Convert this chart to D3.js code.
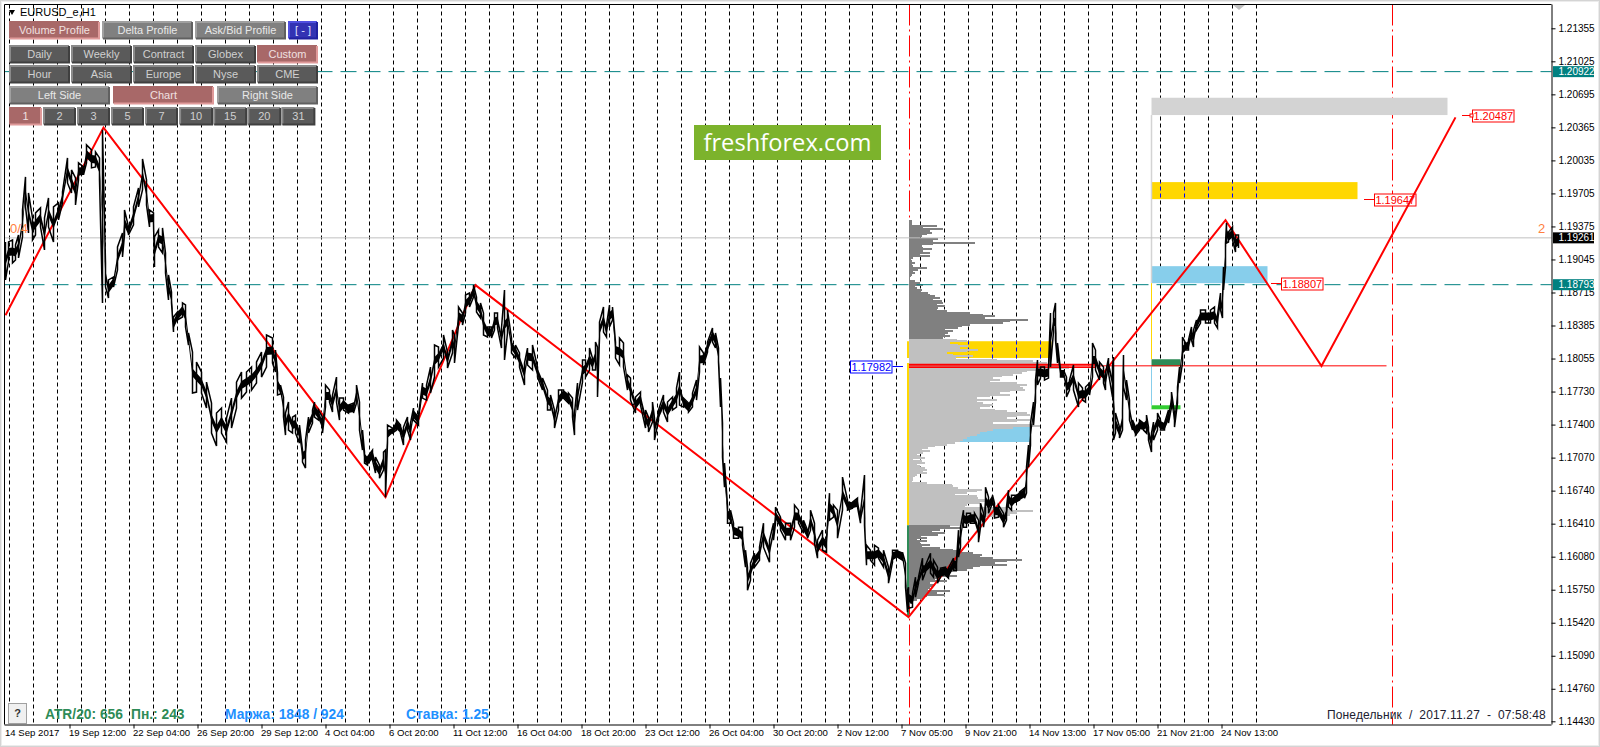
<!DOCTYPE html>
<html>
<head>
<meta charset="utf-8">
<title>EURUSD_e,H1</title>
<script src="https://d3js.org/d3.v7.min.js"></script>
<style>
  body { margin: 0; background: #fff; overflow: hidden; }
  text { font-family: "Liberation Sans", Arial, sans-serif; }
</style>
</head>
<body>
<div id="root"></div>
<script>
// Data. Price bars are [bar, high, low], prices in 1/10000.
const sepBars = [
  [0,11922,11884],[3,11922,11902],[7,11924,11901],[10,11919,11904],[13,11929,11906],[17,11954,11927],[20,11987,11957],[23,11971,11931],
  [27,11946,11924],[30,11951,11929],[35,11956,11937],[39,11946,11914],[43,11966,11937],[48,11957,11922],[53,11961,11944],[57,11972,11961],
  [62,12006,11981],[66,11994,11971],[70,11986,11959],[73,12001,11984],[78,11997,11989],[81,12019,12001],[86,12014,11996],[90,12012,11997],
  [94,12006,11984],[97,12034,11861],[100,11901,11877],[103,11884,11866],[108,11887,11877],[112,11917,11894],[117,11931,11907],[119,11954,11929],
  [123,11937,11929],[128,11957,11939],[133,11976,11957],[137,12005,11974],[141,11984,11959],[144,11954,11937],[148,11951,11941],[149,11927,11897],
  [153,11934,11917],[157,11936,11911],[160,11911,11891],[163,11889,11864],[166,11872,11861],[168,11847,11832],[172,11852,11844],[177,11861,11847],
  [180,11859,11837],[183,11831,11819],[187,11812,11771],[191,11802,11772],[196,11792,11771],[201,11782,11756],[206,11761,11731],[211,11751,11718],
  [216,11756,11731],[221,11746,11722],[226,11766,11736],[231,11782,11756],[236,11792,11766],[241,11792,11772],[246,11797,11774],[251,11802,11781],
  [256,11812,11787],[261,11829,11797],[267,11826,11801],[270,11814,11792],[272,11791,11769],[275,11779,11770],[278,11767,11747],[280,11751,11729],
  [283,11762,11734],[287,11747,11731],[290,11749,11731],[294,11739,11721],[297,11714,11702],[300,11724,11696],[303,11747,11731],[307,11754,11741],
  [309,11762,11747],[313,11754,11744],[317,11747,11731],[320,11779,11757],[324,11774,11762],[327,11769,11752],[331,11787,11762],[334,11766,11744],
  [338,11766,11754],[343,11759,11751],[348,11761,11751],[351,11779,11761],[354,11762,11734],[357,11734,11714],[359,11712,11701],[362,11707,11699],
  [367,11714,11704],[370,11707,11691],[374,11699,11686],[378,11712,11694],[380,11714,11667]
];
const octBars = [
  [382,11739,11721],[387,11736,11731],[391,11744,11734],[395,11739,11731],[398,11737,11719],[402,11747,11734],[405,11741,11724],[408,11756,11744],
  [413,11749,11739],[417,11781,11766],[421,11779,11764],[425,11797,11771],[429,11819,11787],[433,11817,11797],[438,11829,11806],[442,11812,11796],
  [447,11834,11811],[449,11829,11801],[453,11857,11839],[457,11851,11839],[460,11869,11851],[464,11871,11857],[468,11879,11867],[471,11867,11852],
  [475,11861,11846],[478,11851,11829],[482,11837,11827],[486,11837,11826],[489,11851,11834],[492,11851,11836],[496,11836,11816],[499,11874,11804],
  [502,11854,11831],[506,11826,11811],[510,11819,11806],[514,11811,11797],[519,11801,11779],[522,11816,11799],[527,11819,11794],[532,11797,11787],
  [537,11786,11774],[542,11774,11754],[545,11769,11754],[549,11754,11736],[553,11774,11754],[558,11774,11766],[563,11771,11761],[567,11766,11747],
  [569,11751,11729],[572,11781,11754],[577,11804,11782],[580,11804,11787],[584,11816,11794],[587,11806,11794],[590,11822,11794],[592,11817,11767],
  [594,11842,11826],[598,11857,11832],[601,11839,11827],[604,11859,11837],[607,11857,11844],[610,11822,11806],[614,11826,11799],[618,11821,11797],
  [622,11789,11774],[625,11786,11764],[630,11767,11751],[635,11772,11759],[640,11754,11736],[643,11747,11732],[647,11762,11742],[649,11746,11724],
  [653,11754,11744],[658,11769,11752],[662,11762,11742],[667,11767,11754],[671,11776,11757],[674,11792,11759],[678,11766,11757],[683,11761,11752],
  [687,11771,11757],[691,11784,11764],[694,11817,11792],[698,11811,11799],[702,11822,11812],[707,11836,11822],[710,11831,11816],[713,11816,11802],
  [715,11786,11757],[717,11741,11707],[719,11701,11677],[722,11659,11641],[725,11654,11641],[728,11641,11626],[733,11637,11626],[737,11637,11619],
  [740,11614,11597],[742,11597,11574],[745,11601,11584],[749,11611,11597],[754,11617,11604],[758,11641,11617],[764,11624,11602],[768,11641,11624],
  [770,11657,11641],[775,11647,11634],[780,11641,11624],[785,11641,11624],[789,11659,11637],[793,11654,11641],[798,11644,11631],[802,11634,11626],
  [805,11654,11634],[809,11641,11621],[812,11624,11606],[817,11634,11614],[821,11626,11612],[824,11671,11644],[828,11659,11647],[832,11654,11626],
  [837,11687,11654],[842,11664,11654],[847,11662,11656],[852,11666,11657],[855,11651,11641],[859,11689,11639],[861,11619,11599],[865,11614,11604],
  [869,11619,11599],[873,11616,11606],[878,11614,11597],[883,11597,11581],[887,11614,11602],[892,11614,11607],[897,11612,11604],[900,11601,11577]
];
const novBars = [
  [902,11574,11552],[903,11577,11556],[907,11571,11557],[910,11587,11567],[913,11587,11581],[917,11606,11584],[920,11599,11592],[925,11611,11591],
  [928,11604,11587],[932,11597,11581],[935,11596,11587],[940,11597,11589],[943,11596,11586],[948,11606,11594],[951,11604,11594],[953,11634,11607],
  [955,11637,11617],[958,11654,11637],[961,11651,11637],[965,11651,11641],[969,11651,11641],[973,11644,11622],[975,11661,11637],[978,11651,11637],
  [980,11677,11651],[983,11667,11651],[987,11669,11661],[989,11661,11646],[993,11659,11647],[998,11651,11637],[1001,11657,11644],[1003,11674,11657],
  [1006,11669,11654],[1010,11669,11662],[1014,11672,11664],[1019,11676,11666],[1021,11697,11671],[1023,11719,11697],[1025,11741,11719],[1028,11762,11739],
  [1030,11784,11762],[1032,11804,11779],[1035,11797,11786],[1039,11797,11784],[1043,11797,11786],[1045,11851,11797],[1048,11851,11832],[1050,11861,11824],
  [1052,11821,11801],[1055,11794,11787],[1058,11794,11787],[1061,11787,11767],[1064,11784,11774],[1068,11799,11774],[1073,11781,11757],[1077,11776,11764],
  [1080,11777,11762],[1084,11781,11769],[1087,11821,11787],[1090,11814,11794],[1094,11802,11784],[1098,11797,11781],[1100,11791,11774],[1103,11806,11791],
  [1107,11797,11767],[1108,11807,11724],[1110,11751,11731],[1114,11737,11726],[1117,11754,11734],[1118,11809,11777],[1121,11784,11764],[1124,11764,11744],
  [1127,11744,11734],[1130,11737,11729],[1134,11744,11734],[1138,11741,11734],[1141,11749,11731],[1143,11737,11724],[1146,11731,11712],[1148,11742,11724],
  [1152,11751,11734],[1155,11744,11734],[1159,11741,11734],[1163,11754,11741],[1166,11772,11757],[1169,11751,11737],[1172,11777,11761],[1174,11797,11781],
  [1177,11827,11801],[1180,11821,11814],[1183,11824,11814],[1186,11837,11824],[1188,11834,11817],[1191,11844,11834],[1195,11854,11841],[1200,11854,11841],
  [1205,11854,11841],[1209,11857,11841],[1212,11849,11836],[1215,11871,11854],[1217,11864,11846],[1218,11897,11874],[1220,11921,11897],[1221,11941,11921],
  [1223,11932,11922],[1227,11937,11924],[1230,11929,11912],[1233,11929,11916]
];

// Forecast / swing zigzag
const zigzagBars = [0, 98, 380, 470, 903, 1220, 1316, 1450];
const zigzagPrices = [1.18488, 1.20363, 1.16671, 1.18788, 1.15471, 1.19438, 1.17981, 1.20465];

// Volume profile, one value per price row from the top row down
const profileVolume = [
  3,3,3,28,14,34,21,23,18,13,11,29,24,66,24,13,14,23,14,21,11,21,4,2,3,6,3,4,18,9,4,6,3,2,1,1,6,11,14,6,8,13,11,19,21,26,31,24,33,34,28,36,29,28,38,61,74,86,76,119,101,94,61,53,49,36,44,39,36,41,34,
  48,58,41,49,59,51,69,58,38,44,64,47,88,124,138,151,160,160,128,118,113,104,93,84,91,81,108,118,111,114,116,101,91,101,81,68,88,68,74,84,81,71,86,98,118,121,108,98,121,108,84,124,131,104,84,78,71,68,61,58,54,51,
  46,38,26,19,13,21,14,8,11,16,4,13,16,8,11,16,18,14,18,8,6,4,4,3,18,43,44,49,73,68,58,46,68,69,84,78,71,58,56,98,103,124,108,101,94,71,64,61,68,51,
  41,51,31,23,36,29,11,18,8,18,11,21,13,31,44,51,64,73,71,84,113,98,86,98,71,64,58,48,39,34,48,29,26,38,21,26,23,21,19,41,28,36,18,14,8,4,3,1
];
const profileTopPrice = 1.19438;
const profileStep = 0.0001667;
const profileDarkAbove = 1.18258;
const profileDarkBelow = 1.16388;
const profileBar = 903.5;

// Axis labels
const priceTicks = [1.21355,1.21025,1.20695,1.20365,1.20035,1.19705,1.19375,1.19045,1.18715,1.18385,1.18055,1.1773,1.174,1.1707,1.1674,1.1641,1.1608,1.1575,1.1542,1.1509,1.1476,1.1443];
const tickPixelPrices = [1.21355,1.21025,1.20695,1.20365,1.20035,1.19705,1.19375,1.19045,1.18715,1.18385,1.18055,1.17725,1.17395,1.17065,1.16735,1.16405,1.16075,1.15745,1.15415,1.15085,1.14755,1.14430];
const timeBars = [0,64,128,192,256,320,384,448,512,576,640,704,768,832,896,960,1024,1088,1152,1216];
const timeLabels = ['14 Sep 2017','19 Sep 12:00','22 Sep 04:00','26 Sep 20:00','29 Sep 12:00','4 Oct 04:00','6 Oct 20:00','11 Oct 12:00','16 Oct 04:00','18 Oct 20:00','23 Oct 12:00','26 Oct 04:00','30 Oct 20:00','2 Nov 12:00','7 Nov 05:00','9 Nov 21:00','14 Nov 13:00','17 Nov 05:00','21 Nov 21:00','24 Nov 13:00'];
const dayBars = [4,28,52,76,100,124,148,172,196,220,244,268,292,316,340,364,388,412,436,460,484,508,532,556,580,604,628,652,676,700,724,748,772,796,820,844,867,891,915,939,963,987,1011,1035,1059,1083,1107,1131,1155,1179,1203,1227,1251];

// Button captions
const topButtons = ['Volume Profile', 'Delta Profile', 'Ask/Bid Profile'];
const sessionRow1 = ['Daily', 'Weekly', 'Contract', 'Globex', 'Custom'];
const sessionRow2 = ['Hour', 'Asia', 'Europe', 'Nyse', 'CME'];
const sideButtons = ['Left Side', 'Chart', 'Right Side'];
const countButtons = ['1', '2', '3', '5', '7', '10', '15', '20', '31'];

let width = 1600;
let height = 747;
let plotLeft = 4.5;
let plotRight = 1551.5;
let plotTop = 4.5;
let plotBottom = 724.5;

let svg = d3.select('#root')
  .append('svg')
  .attr('width', width)
  .attr('height', height)
  .style('display', 'block');

let xScale = d3.scaleLinear().domain([0, 1546]).range([5.5, 1551.5]);
let yScale = d3.scaleLinear().domain([1.14430, 1.21355]).range([721.3, 28.3]);

let pipY = (p) => yScale(p / 10000);

// window frame
svg.append('rect').attr('x', 0.5).attr('y', 0.5).attr('width', width - 1).attr('height', height - 1)
  .attr('fill', 'none').attr('stroke', '#d4d4d4');
svg.append('rect').attr('x', 1.5).attr('y', 1.5).attr('width', width - 3).attr('height', height - 3)
  .attr('fill', 'none').attr('stroke', '#ececec');

// day separators
let drawGrid = (g, color) => {
  g.selectAll('line')
    .data(dayBars)
    .enter()
    .append('line')
    .attr('x1', (d) => xScale(d))
    .attr('x2', (d) => xScale(d))
    .attr('y1', plotTop)
    .attr('y2', plotBottom)
    .attr('stroke', color)
    .attr('stroke-dasharray', '4 3');
};
drawGrid(svg.append('g').attr('id', 'grid'), '#000');

// red session lines
let sessionLines = [904, 1387];
svg.append('g').selectAll('line')
  .data(sessionLines)
  .enter()
  .append('line')
  .attr('x1', (d) => xScale(d))
  .attr('x2', (d) => xScale(d))
  .attr('y1', plotTop)
  .attr('y2', plotBottom)
  .attr('stroke', '#f00')
  .attr('stroke-width', 1)
  .attr('stroke-dasharray', '21 4 2 4');

// horizontal levels
let levels = [
  { price: 1.20922, color: '#008080', dash: '16 8' },
  { price: 1.18793, color: '#008080', dash: '16 8' },
  { price: 1.19261, color: '#c0c0c0', dash: null }
];

// profile boxes: [startBar, endBar, top price, bottom price, colour]
let boxes = [
  [1146, 1442, 1.20661, 1.20488, '#d3d3d3'],
  [1146, 1352, 1.19818, 1.19648, '#ffd700'],
  [1146, 1262, 1.18978, 1.18808, '#87ceeb'],
  [1146, 1175, 1.18048, 1.17978, '#2e8b57'],
  [1146, 1175, 1.17588, 1.17548, '#32cd32'],
  [profileBar, 1046, 1.18228, 1.18061, '#ffd700'],
  [profileBar, 1025, 1.17371, 1.17221, '#87ceeb']
];
svg.append('g').selectAll('rect')
  .data(boxes)
  .enter()
  .append('rect')
  .attr('x', (d) => xScale(d[0]))
  .attr('width', (d) => xScale(d[1]) - xScale(d[0]))
  .attr('y', (d) => yScale(d[2]))
  .attr('height', (d) => yScale(d[3]) - yScale(d[2]))
  .attr('fill', (d) => d[4]);

// separators show blue through the gold boxes
let defs = svg.append('defs');
let goldClip = defs.append('clipPath').attr('id', 'goldClip');
goldClip.selectAll('rect')
  .data(boxes.filter((d) => d[4] === '#ffd700'))
  .enter()
  .append('rect')
  .attr('x', (d) => xScale(d[0]))
  .attr('width', (d) => xScale(d[1]) - xScale(d[0]))
  .attr('y', (d) => yScale(d[2]))
  .attr('height', (d) => yScale(d[3]) - yScale(d[2]));
drawGrid(svg.append('g').attr('clip-path', 'url(#goldClip)'), '#0000ff');

// vertical stems of the boxes
let stems = [
  [1146, 1.20488, 1.18808, '#d3d3d3', 1.5],
  [1146, 1.18808, 1.18048, '#ffd700', 1],
  [1146, 1.17978, 1.17588, '#87ceeb', 1],
  [profileBar - 1, 1.18228, 1.18061, '#ffd700', 2],
  [profileBar - 1, 1.18010, 1.16388, '#ffd700', 2],
  [profileBar - 1, 1.16388, 1.15471, '#2e8b57', 2]
];
svg.append('g').selectAll('line')
  .data(stems)
  .enter()
  .append('line')
  .attr('x1', (d) => xScale(d[0]))
  .attr('x2', (d) => xScale(d[0]))
  .attr('y1', (d) => yScale(d[1]))
  .attr('y2', (d) => yScale(d[2]))
  .attr('stroke', (d) => d[3])
  .attr('stroke-width', (d) => d[4]);

// volume profile rows
let volumeWidth = d3.scaleLinear().domain([0, 160]).range([0, 160]);
svg.append('g').attr('id', 'profile').attr('shape-rendering', 'crispEdges').selectAll('rect')
  .data(profileVolume)
  .enter()
  .append('rect')
  .attr('x', xScale(profileBar))
  .attr('y', (d, i) => yScale(profileTopPrice - i * profileStep))
  .attr('width', (d) => volumeWidth(d))
  .attr('height', 2)
  .attr('fill', (d, i) => {
    let p = profileTopPrice - i * profileStep;
    return (p > profileDarkAbove || p < profileDarkBelow) ? '#808080' : '#c0c0c0';
  });

// level lines
svg.append('g').selectAll('line')
  .data(levels)
  .enter()
  .append('line')
  .attr('x1', plotLeft)
  .attr('x2', plotRight)
  .attr('y1', (d) => yScale(d.price))
  .attr('y2', (d) => yScale(d.price))
  .attr('stroke', (d) => d.color)
  .attr('stroke-dasharray', (d) => d.dash);

// point of control
let pocLines = [
  [profileBar, 1090, 1.17995, 1.5],
  [profileBar, 1090, 1.17968, 1.5],
  [profileBar, 1381, 1.17982, 1]
];
svg.append('g').selectAll('line')
  .data(pocLines)
  .enter()
  .append('line')
  .attr('x1', (d) => xScale(d[0]))
  .attr('x2', (d) => xScale(d[1]))
  .attr('y1', (d) => yScale(d[2]))
  .attr('y2', (d) => yScale(d[2]))
  .attr('stroke', '#f00')
  .attr('stroke-width', (d) => d[3]);

// boxed price labels: text, bar of the connector start, price, colour
let priceLabels = [
  { text: '1.20487', bar: 1456.5, price: 1.20487, color: '#f00', marker: true },
  { text: '1.19647', bar: 1358.5, price: 1.19647, color: '#f00' },
  { text: '1.18807', bar: 1265.5, price: 1.18807, color: '#f00' },
  { text: '1.17982', bar: 844.5, price: 1.17982, color: '#00f', left: true }
];
let labelG = svg.append('g').selectAll('g')
  .data(priceLabels)
  .enter()
  .append('g')
  .attr('transform', (d) => `translate(${xScale(d.bar)},${Math.round(yScale(d.price)) + 0.5})`);
labelG.append('rect')
  .attr('x', (d) => d.left ? 0.5 : 10.5)
  .attr('y', -5.5)
  .attr('width', 41.5)
  .attr('height', 12)
  .attr('fill', '#fff')
  .attr('stroke', (d) => d.color)
  .attr('stroke-width', 1);
labelG.append('line')
  .attr('x1', (d) => d.left ? 42.5 : 0)
  .attr('x2', (d) => d.left ? 53 : 10.5)
  .attr('y1', 0).attr('y2', 0)
  .attr('stroke', (d) => d.color);
labelG.filter((d) => d.marker).append('rect')
  .attr('x', 8).attr('y', -1.5).attr('width', 3).attr('height', 3)
  .attr('fill', '#fff').attr('stroke', '#f00');
labelG.append('text')
  .attr('x', (d) => d.left ? 21.3 : 31.3)
  .attr('y', 4.5)
  .attr('text-anchor', 'middle')
  .attr('font-size', 11)
  .attr('fill', (d) => d.color)
  .text((d) => d.text);

// zigzag
let zigzagLine = d3.line()
  .x((d) => xScale(d))
  .y((d, i) => yScale(zigzagPrices[i]));
svg.append('path')
  .attr('d', zigzagLine(zigzagBars))
  .attr('fill', 'none')
  .attr('stroke', '#f00')
  .attr('stroke-width', 2);

// price: a solid body between the bars plus the jagged high-low strokes
let priceBars = sepBars.concat(octBars, novBars);
let bodyLimit = 4; // long wicks stay thin, only their middle joins the body
let priceBody = d3.area()
  .x((d) => xScale(d[0]))
  .y0((d) => pipY(Math.min(d[1], (d[1] + d[2]) / 2 + bodyLimit)))
  .y1((d) => pipY(Math.max(d[2], (d[1] + d[2]) / 2 - bodyLimit)));
svg.append('path')
  .attr('d', priceBody(priceBars))
  .attr('fill', '#000');

let jagged = priceBars.flatMap((d, i) => i % 2
  ? [[d[0], d[2]], [d[0], d[1]]]
  : [[d[0], d[1]], [d[0], d[2]]]);
let priceLine = d3.line()
  .x((d) => xScale(d[0]))
  .y((d) => pipY(d[1]));
svg.append('path')
  .attr('id', 'price')
  .attr('d', priceLine(jagged))
  .attr('fill', 'none')
  .attr('stroke', '#000')
  .attr('stroke-width', 1.5)
  .attr('stroke-linejoin', 'miter');

// axes
let yAxisG = svg.append('g')
  .attr('transform', `translate(${plotRight},0)`)
  .call(d3.axisRight(yScale).tickValues(tickPixelPrices).tickSizeOuter(0).tickSize(4).tickFormat((d, i) => priceTicks[i].toFixed(5)));
yAxisG.select('.domain').attr('d', `M0.5,${plotTop}V${plotBottom}`).attr('stroke', '#000');
yAxisG.selectAll('text').attr('font-family', '"Liberation Sans", Arial, sans-serif').attr('font-size', 10).attr('fill', '#000').attr('x', 7);

let xAxisG = svg.append('g')
  .attr('transform', `translate(0,${plotBottom})`)
  .call(d3.axisBottom(xScale).tickValues(timeBars).tickSizeOuter(0).tickSize(4).tickFormat((d, i) => timeLabels[i]));
xAxisG.select('.domain').attr('d', `M${plotLeft},0.5H${plotRight}`).attr('stroke', '#000');
xAxisG.selectAll('text').attr('font-family', '"Liberation Sans", Arial, sans-serif').attr('font-size', 9.6).attr('fill', '#000')
  .attr('text-anchor', 'start').attr('x', -1).attr('dy', 0).attr('y', 11.5);
xAxisG.selectAll('.tick').filter((d, i) => i === 0).select('line').remove();

// top and left frame of the plot
svg.append('path').attr('d', `M${plotLeft},${plotBottom}V${plotTop}H${plotRight}`).attr('fill', 'none').attr('stroke', '#000');

// coloured price tags on the axis
let priceTags = [
  { price: 1.20922, color: '#008080' },
  { price: 1.18793, color: '#008080' },
  { price: 1.19261, color: '#000' }
];
let tagG = svg.append('g').selectAll('g')
  .data(priceTags)
  .enter()
  .append('g')
  .attr('transform', (d) => `translate(1553,${yScale(d.price)})`);
tagG.append('rect').attr('x', 0).attr('y', -5.5).attr('width', 41).attr('height', 11).attr('fill', (d) => d.color);
tagG.append('text').attr('x', 5.5).attr('y', 3.5).attr('font-size', 10).attr('fill', '#fff').text((d) => d.price.toFixed(5));

// shift marker at the top
svg.append('path').attr('d', 'M1233,5H1245L1239,10Z').attr('fill', '#c0c0c0');

// buttons
let drawButton = (x, y, w, h, label, kind) => {
  let styles = {
    dark: { face: '#5a5a5a', hi: '#8a8a8a', lo: '#3f3f3f', text: '#d0d0d0' },
    gray: { face: '#808080', hi: '#a0a0a0', lo: '#606060', text: '#e8e8e8' },
    red: { face: '#a86868', hi: '#a86868', lo: '#e09a9a', text: '#f0e0e0' },
    blue: { face: '#3333b3', hi: '#5050e0', lo: '#2020a0', text: '#e0e0ff' }
  };
  let s = styles[kind];
  let g = svg.append('g');
  g.append('rect').attr('x', x).attr('y', y).attr('width', w).attr('height', h).attr('fill', s.face);
  g.append('path').attr('d', `M${x},${y + h}V${y}H${x + w}`).attr('fill', 'none').attr('stroke', s.hi).attr('stroke-width', 2);
  g.append('path').attr('d', `M${x + w},${y}V${y + h}H${x}`).attr('fill', 'none').attr('stroke', s.lo).attr('stroke-width', 2);
  g.append('text').attr('x', x + w / 2).attr('y', y + h / 2 + 4).attr('text-anchor', 'middle')
    .attr('font-size', 11).attr('fill', s.text).text(label);
};

topButtons.forEach((label, i) => drawButton(10 + 93 * i, 22, 89, 16.5, label, i === 0 ? 'red' : 'gray'));
drawButton(289, 22, 28, 16.5, '[ - ]', 'blue');
sessionRow1.forEach((label, i) => drawButton(10 + 62 * i, 46, 59, 16.5, label, label === 'Custom' ? 'red' : 'dark'));
sessionRow2.forEach((label, i) => drawButton(10 + 62 * i, 66, 59, 16.5, label, 'dark'));
sideButtons.forEach((label, i) => drawButton(10 + 104 * i, 87, 99, 16.5, label, label === 'Chart' ? 'red' : 'gray'));
countButtons.forEach((label, i) => drawButton(10 + 34 * i + (i > 4 ? (i - 4) * 0.1 : 0), 108, i < 5 ? 31 : 32, 16.5, label, i === 0 ? 'red' : 'dark'));

// symbol caption
svg.append('path').attr('d', 'M9,10H15L12,15Z').attr('fill', '#000');
svg.append('text').attr('x', 20).attr('y', 16).attr('font-size', 11).attr('fill', '#000').text('EURUSD_e,H1');

// small orange numbers
svg.append('text').attr('x', 10).attr('y', 233).attr('font-size', 13).attr('fill', '#ff7f3f').text('0/4');
svg.append('text').attr('x', 1538).attr('y', 233).attr('font-size', 13).attr('fill', '#ff7f3f').text('2');

// watermark
svg.append('rect').attr('x', 694).attr('y', 125).attr('width', 187).attr('height', 35).attr('fill', '#7cb32c');
svg.append('text').attr('x', 787.5).attr('y', 150.5).attr('text-anchor', 'middle')
  .attr('font-size', 23.7).attr('fill', '#fff').style('font-family', '"Open Sans"').text('freshforex.com');

// help button
svg.append('rect').attr('x', 8.5).attr('y', 703.5).attr('width', 18).attr('height', 20).attr('fill', '#f0f0f0').attr('stroke', '#a0a0a0');
svg.append('text').attr('x', 17.5).attr('y', 717).attr('text-anchor', 'middle').attr('font-size', 11).attr('font-weight', 'bold').attr('fill', '#333').text('?');

// status texts
let statusTexts = [
  { x: 45, text: 'ATR/20: 656', color: '#2e8b57' },
  { x: 131, text: 'Пн.: 243', color: '#2e8b57' },
  { x: 225, text: 'Маржа: 1848 / 924', color: '#1e90ff' },
  { x: 406, text: 'Ставка: 1.25', color: '#1e90ff' }
];
svg.append('g').selectAll('text')
  .data(statusTexts)
  .enter()
  .append('text')
  .attr('x', (d) => d.x)
  .attr('y', 719)
  .attr('font-size', 13.8)
  .attr('font-weight', 'bold')
  .attr('fill', (d) => d.color)
  .text((d) => d.text);

svg.append('text').attr('x', 1327).attr('y', 719).attr('font-size', 12).attr('fill', '#202030')
  .attr('textLength', 218.7)
  .attr('lengthAdjust', 'spacing')
  .style('white-space', 'pre')
  .text('Понедельник  /  2017.11.27  -  07:58:48');
</script>
</body>
</html>
